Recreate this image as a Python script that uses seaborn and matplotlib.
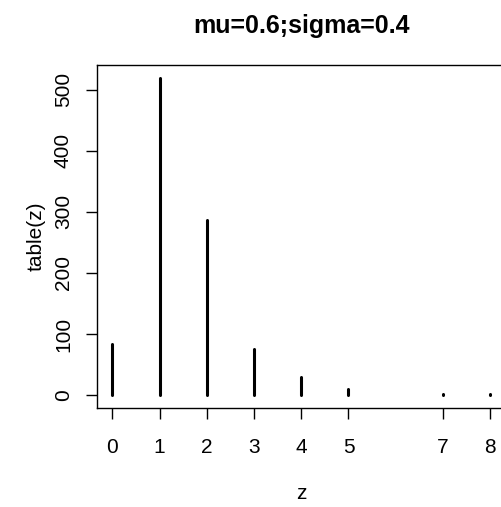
import numpy as np
import pandas as pd
import matplotlib
matplotlib.use("Agg")
import matplotlib.pyplot as plt
import seaborn as sns

# counts of z (table(z))
z_values = [0, 1, 2, 3, 4, 5, 7, 8]
counts   = [84, 520, 287, 75, 30, 10, 1, 1]
y_ticks  = [0, 100, 200, 300, 400, 500]
title    = "mu=0.6;sigma=0.4"

df = pd.DataFrame({"z": z_values, "count": counts})

sns.set_style("ticks")
plt.rcParams["font.family"] = ["Liberation Sans", "DejaVu Sans"]
plt.rcParams["text.color"] = "black"
plt.rcParams["axes.labelcolor"] = "black"

fig = plt.figure(figsize=(5.02, 5.07), dpi=100)
ax = fig.add_axes([0.1938, 0.1959, 0.8127, 0.6759])

ax.vlines(df["z"], 0, df["count"], colors="black", linewidth=2.2,
          capstyle="round")

ax.set_xlim(-0.32, 8.32)
ax.set_ylim(-20.8, 540.8)
ax.set_xticks(z_values)
ax.set_xticklabels([str(v) for v in z_values])
ax.set_yticks(y_ticks)
ax.set_yticklabels([str(v) for v in y_ticks], rotation=90, va="center")

for side in ["top", "right", "bottom", "left"]:
    ax.spines[side].set_visible(True)
    ax.spines[side].set_color("black")
    ax.spines[side].set_linewidth(1.0)

ax.tick_params(axis="both", direction="out", length=8, width=1.0,
               color="black", labelsize=15, labelcolor="black")
ax.tick_params(axis="x", pad=13.5)
ax.tick_params(axis="y", pad=9.5)

ax.set_xlabel("z", fontsize=15, labelpad=20)
ax.set_ylabel("table(z)", fontsize=15, labelpad=6)
ax.set_title(title, fontsize=18, fontweight="bold", pad=23, color="black")

plt.savefig("out.png", dpi=100)
plt.close()
